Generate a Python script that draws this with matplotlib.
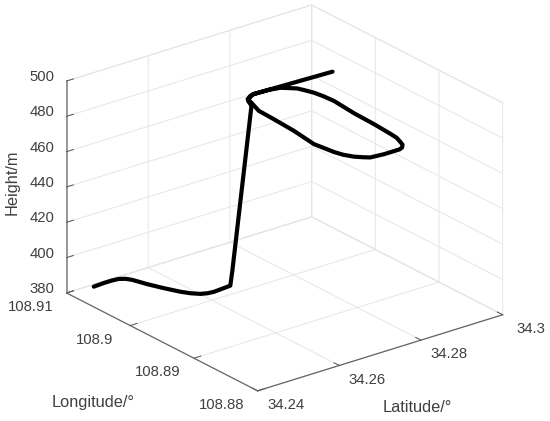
import matplotlib
matplotlib.use("Agg")
import matplotlib.pyplot as plt
from matplotlib.ticker import NullFormatter
from mpl_toolkits.mplot3d import proj3d

plt.rcParams['font.family'] = ['Liberation Sans', 'DejaVu Sans']

latitude = [34.2434, 34.2460, 34.2480, 34.2495, 34.2506, 34.2513, 34.2523, 34.2536, 34.2551, 34.2562,
            34.2575, 34.2588, 34.2602, 34.2624, 34.2645,
            34.2650, 34.2661,
            34.2670, 34.2687, 34.2697, 34.2735, 34.2759, 34.2782, 34.2789, 34.2795, 34.2799, 34.2801,
            34.2795, 34.2793, 34.2789, 34.2787, 34.2779, 34.2775, 34.2766, 34.2757, 34.2747, 34.2719,
            34.2688, 34.2677, 34.2666, 34.2655, 34.2649, 34.2642, 34.2651, 34.2655, 34.2657, 34.2670,
            34.2675, 34.2699, 34.2886]
longitude = [108.9079, 108.9080, 108.9080, 108.9079, 108.9075, 108.9069, 108.9052, 108.9035, 108.9018, 108.9009,
             108.9002, 108.8999, 108.8998, 108.8999, 108.9000,
             108.9000, 108.8977,
             108.8988, 108.8996, 108.8998, 108.8997, 108.8994, 108.8983, 108.8974, 108.8965, 108.8952, 108.8937,
             108.8902, 108.8869, 108.8840, 108.8830, 108.8818, 108.8813, 108.8808, 108.8806, 108.8806, 108.8806,
             108.8808, 108.8813, 108.8819, 108.8829, 108.8840, 108.8867, 108.8904, 108.8938, 108.8963, 108.8983,
             108.8992, 108.8998, 108.8994]
height = [385] * 15 + [393, 490] + [490] * 33

lat_ticks = [34.24, 34.26, 34.28, 34.30]
lat_labels = ['34.24', '34.26', '34.28', '34.3']
lon_ticks = [108.88, 108.89, 108.90, 108.91]
lon_labels = ['108.88', '108.89', '108.9', '108.91']
z_ticks = [380, 400, 420, 440, 460, 480, 500]

W, H = 550, 421
side = 600
cx, cy = 276.5, 206
TXT = '#404040'
FS = 10.7

fig = plt.figure(figsize=(W / 100, H / 100), dpi=100)
ax = fig.add_axes([(cx - side / 2) / W, (H - cy - side / 2) / H, side / W, side / H],
                  projection='3d', proj_type='ortho')
ax.patch.set_alpha(0)
ax.view_init(elev=23.5, azim=-127.9)
ax.set_box_aspect((310.5, 311, 231), zoom=1.028 * 1.114 * 421 / side)

ax.plot(latitude, longitude, height, color='black', lw=3.0, solid_capstyle='round', solid_joinstyle='round')

ax.set_xlim(34.24, 34.30, view_margin=0)
ax.set_ylim(108.88, 108.91, view_margin=0)
ax.set_zlim(380, 500, view_margin=0)
ax.set_xticks(lat_ticks)
ax.set_yticks(lon_ticks)
ax.set_zticks(z_ticks)

for axis in (ax.xaxis, ax.yaxis, ax.zaxis):
    axis.set_pane_color((1, 1, 1, 1))
    axis.pane.set_edgecolor('#e0e0e0')
    axis.pane.set_linewidth(0.7)
    axis._axinfo['grid']['color'] = '#e6e6e6'
    axis._axinfo['grid']['linewidth'] = 0.7
    axis._axinfo['tick']['inward_factor'] = 0.0
    axis._axinfo['tick']['outward_factor'] = 0.35
    axis._axinfo['tick']['linewidth'] = {True: 0.7, False: 0.5}
    axis.line.set_color('#666666')
    axis.line.set_linewidth(0.9)
    axis.set_tick_params(colors='#555555')
    # tick text is drawn below, so the built-in labels are switched off
    axis.set_major_formatter(NullFormatter())
    axis.label.set_visible(False)
    axis.offsetText.set_visible(False)
ax.zaxis.line.set_color('#888888')
ax.zaxis.line.set_linewidth(1.2)


def label3d(x, y, z, s, ha):
    """Put a 2D text where the 3D point (x, y, z) lands on the axes."""
    px, py, _ = proj3d.proj_transform(x, y, z, ax.get_proj())
    ax.text2D(px, py, s, transform=ax.transData, ha=ha, va='center', fontsize=FS, color=TXT)


# tick labels, placed just outside the box edges
for v, s in zip(lat_ticks, lat_labels):
    label3d(v, 108.8756, 380, s, 'center')
for v, s in zip(lon_ticks, lon_labels):
    label3d(34.2312, v, 378.3, s, 'center')
for v in z_ticks:
    label3d(34.2371, 108.91, v + 4.4, str(v), 'right')

fig.text(12 / W, 1 - 182 / H, 'Height/m', rotation=90, ha='center', va='center', fontsize=11.8, color=TXT)
fig.text(93 / W, 1 - 403 / H, 'Longitude/°', ha='center', va='center', fontsize=11.8, color=TXT)
fig.text(417 / W, 1 - 408 / H, 'Latitude/°', ha='center', va='center', fontsize=11.8, color=TXT)

fig.savefig('out.png', dpi=100, facecolor='white')
